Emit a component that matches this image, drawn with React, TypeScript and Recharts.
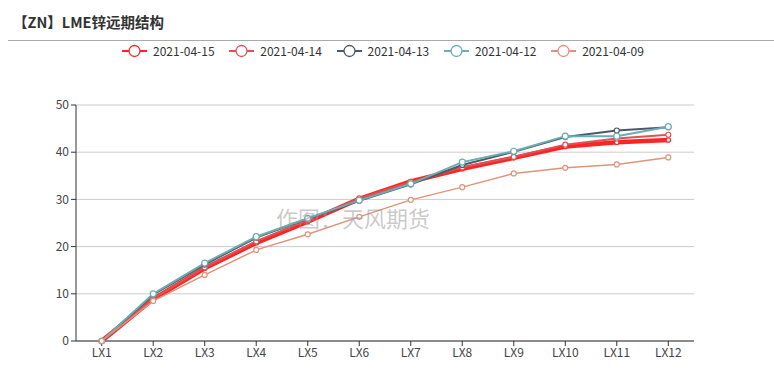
import React from "react";
import { LineChart, Line, XAxis, YAxis, CartesianGrid } from "recharts";

const categories = ["LX1", "LX2", "LX3", "LX4", "LX5", "LX6", "LX7", "LX8", "LX9", "LX10", "LX11", "LX12"];
const s0415 = [0, 8.9, 15.4, 20.8, 25.3, 30.1, 33.8, 36.5, 38.8, 41.2, 42.1, 42.6];
const s0414 = [0, 9.0, 15.6, 21.1, 25.6, 30.2, 33.7, 36.8, 39.0, 41.6, 42.9, 43.7];
const s0413 = [0, 9.8, 16.2, 21.9, 25.9, 29.7, 33.2, 37.3, 40.1, 43.2, 44.6, 45.3];
const s0412 = [0, 10.0, 16.5, 22.1, 26.0, 29.8, 33.3, 37.9, 40.2, 43.4, 43.4, 45.4];
const s0409 = [0, 8.5, 14.0, 19.3, 22.6, 26.3, 29.9, 32.6, 35.5, 36.7, 37.4, 38.9];
const yTicks = [0, 10, 20, 30, 40, 50];

const seriesDefs = [
  { key: "2021-04-15", values: s0415, color: "#ff2424", width: 4.5, r: 2.2 },
  { key: "2021-04-14", values: s0414, color: "#dd5354", width: 2, r: 2.5 },
  { key: "2021-04-13", values: s0413, color: "#4b5a68", width: 2, r: 2.5 },
  { key: "2021-04-12", values: s0412, color: "#6aadb2", width: 2, r: 3 },
  { key: "2021-04-09", values: s0409, color: "#e0937a", width: 1.5, r: 2.5 },
];

const data = categories.map((c, i) => {
  const row: Record<string, any> = { name: c };
  seriesDefs.forEach((s) => (row[s.key] = s.values[i]));
  return row;
});

const font = '"Microsoft YaHei", "Noto Sans CJK SC", "Noto Sans", sans-serif';

const LegendBlock = () => (
  <div style={{ position: "absolute", left: 122, top: 42, display: "flex", alignItems: "center", fontFamily: font, fontSize: 12, color: "#333" }}>
    {seriesDefs.map((s) => (
      <div key={s.key} style={{ display: "flex", alignItems: "center", width: 107.3 }}>
        <svg width={25} height={16} style={{ marginRight: 6 }}>
          <line x1={0} y1={8} x2={25} y2={8} stroke={s.color} strokeWidth={2} />
          <circle cx={12.5} cy={8} r={5.5} fill="#fff" stroke={s.color} strokeWidth={1.3} />
        </svg>
        <span>{s.key}</span>
      </div>
    ))}
  </div>
);

export default function App() {
  return (
    <div style={{ position: "absolute", left: 0, top: 0, width: 774, height: 391, background: "#fff", overflow: "hidden" }}>
      <div style={{ position: "absolute", left: 13, top: 11, fontFamily: font, fontSize: 14.5, fontWeight: "bold", color: "#333", whiteSpace: "nowrap" }}>
        【ZN】LME锌远期结构
      </div>
      <div style={{ position: "absolute", left: 8, top: 40, width: 766, height: 1, background: "#aaa" }} />
      <LegendBlock />
      <LineChart width={774} height={391} data={data} margin={{ top: 105, right: 80, bottom: 20, left: 0 }} style={{ position: "absolute", left: 0, top: 0 }}>
        <CartesianGrid vertical={false} stroke="#ccc" />
        <XAxis
          dataKey="name"
          stroke="#333"
          tickLine={{ stroke: "#333" }}
          tickSize={5}
          tick={{ fill: "#444", fontSize: 12, fontFamily: font }}
          height={30}
          interval={0}
          padding={{ left: 25.7, right: 25.7 }}
        />
        <YAxis
          domain={[0, 50]}
          ticks={yTicks}
          stroke="#333"
          tickSize={5}
          tick={{ fill: "#444", fontSize: 12, fontFamily: font }}
          width={76}
          interval={0}
        />
        {seriesDefs.map((s) => (
          <Line
            key={s.key}
            type="linear"
            dataKey={s.key}
            stroke={s.color}
            strokeWidth={s.width}
            dot={{ r: s.r, fill: "#fff", stroke: s.color, strokeWidth: 1.2 }}
            activeDot={false}
            isAnimationActive={false}
          />
        ))}
      </LineChart>
      <div style={{ position: "absolute", left: 276, top: 201, fontFamily: font, fontSize: 22, color: "rgba(150,150,150,0.5)", whiteSpace: "nowrap", pointerEvents: "none" }}>
        作图：天风期货
      </div>
    </div>
  );
}
